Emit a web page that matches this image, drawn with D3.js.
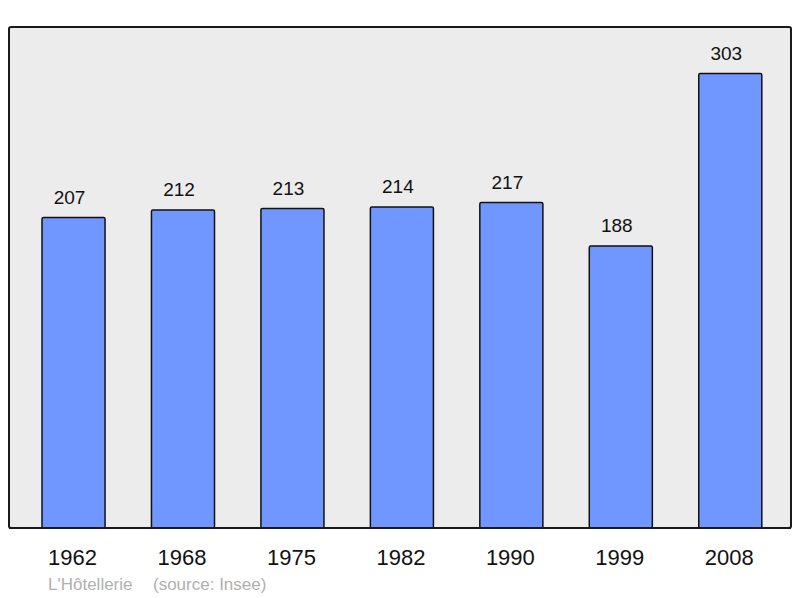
<!DOCTYPE html>
<html>
<head>
<meta charset="utf-8">
<script src="https://cdn.jsdelivr.net/npm/d3@7"></script>
<style>
  body { margin: 0; background: #fff; }
  text { font-family: "Liberation Sans", Arial, sans-serif; }
</style>
</head>
<body>
<div id="chart"></div>
<script>
// data
const years = ["1962", "1968", "1975", "1982", "1990", "1999", "2008"];
const population = [207, 212, 213, 214, 217, 188, 303];
const commune = "L'Hôtellerie";
const source = "(source: Insee)";

const width = 800, height = 598;
const panel = {left: 9, top: 27, right: 791, bottom: 528};

const svg = d3.select("#chart")
    .append("svg")
    .attr("width", width)
    .attr("height", height);

// background panel
svg.append("rect")
    .attr("x", panel.left)
    .attr("y", panel.top)
    .attr("width", panel.right - panel.left)
    .attr("height", panel.bottom - panel.top)
    .attr("rx", 2)
    .attr("fill", "#ececec")
    .attr("stroke", "#1a1a1a")
    .attr("stroke-width", 2);

const x = d3.scaleBand()
    .domain(years)
    .range([18.8, 785])
    .paddingInner(0.424)
    .paddingOuter(0.212);

const y = d3.scaleLinear()
    .domain([0, 334])
    .range([panel.bottom, panel.top]);

const data = years.map((d, i) => ({year: d, value: population[i]}));

// bars
svg.selectAll("rect.bar")
    .data(data)
    .join("rect")
    .attr("class", "bar")
    .attr("x", d => x(d.year))
    .attr("y", d => y(d.value))
    .attr("width", x.bandwidth())
    .attr("height", d => y(0) - y(d.value))
    .attr("rx", 1.5)
    .attr("fill", "#7097ff")
    .attr("stroke", "#111")
    .attr("stroke-width", 1.5);

// value labels (sit a bit left of the bar centre, like the original)
svg.selectAll("text.val")
    .data(data)
    .join("text")
    .attr("class", "val")
    .attr("x", d => x(d.year) + x.bandwidth() / 2 - 4)
    .attr("y", d => y(d.value) - 14)
    .attr("text-anchor", "middle")
    .attr("font-size", 19)
    .attr("fill", "#111")
    .text(d => d.value);

// bottom edge of the panel over the bars
svg.append("line")
    .attr("x1", panel.left).attr("x2", panel.right)
    .attr("y1", panel.bottom).attr("y2", panel.bottom)
    .attr("stroke", "#1a1a1a")
    .attr("stroke-width", 2);

// x axis labels
const xAxis = d3.axisBottom(x).tickSize(0).tickPadding(0);
const gx = svg.append("g")
    .attr("transform", `translate(0, ${panel.bottom})`)
    .call(xAxis);
gx.select(".domain").remove();
gx.selectAll("text")
    .attr("x", -1)
    .attr("y", 37)
    .attr("dy", 0)
    .attr("font-size", 22)
    .attr("font-family", "Liberation Sans, Arial, sans-serif")
    .attr("fill", "#111");

// footer
svg.append("text")
    .attr("x", 48)
    .attr("y", 590)
    .attr("font-size", 17)
    .attr("fill", "#b0b0b0")
    .text(commune);

svg.append("text")
    .attr("x", 153)
    .attr("y", 590)
    .attr("font-size", 17)
    .attr("fill", "#b0b0b0")
    .text(source);
</script>
</body>
</html>
